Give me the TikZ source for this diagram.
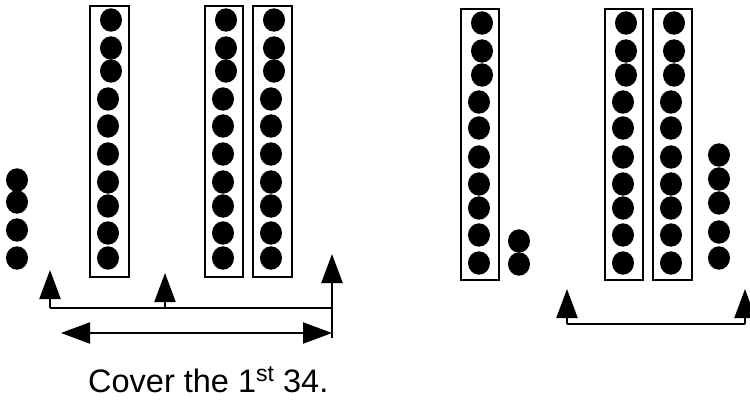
\documentclass[tikz,border=0pt]{standalone}
\usepackage{fontspec}
\setmainfont{Liberation Sans}
\usetikzlibrary{arrows.meta}
\newcommand{\supst}[1]{\raisebox{11pt}{\fontsize{23}{25}\selectfont #1}}
\begin{document}
\begin{tikzpicture}[x=1pt,y=-1pt,
  bead/.style={fill=black,draw=none},
  rod/.style={draw=black,line width=2pt},
  link/.style={draw=black,line width=2.2pt},
  tip/.style={-{Triangle[length=29pt,width=21pt]}},
  both/.style={{Triangle[length=29pt,width=21pt]}-{Triangle[length=29pt,width=21pt]}},
  lbl/.style={font=\fontsize{32.5}{36}\selectfont,inner sep=0pt,anchor=base west}]
\useasboundingbox (0,0) rectangle (750,400);
% ---- left panel ----
\draw[rod] (90,6) rectangle (129,277);
\draw[rod] (205,6) rectangle (243,277);
\draw[rod] (253,6) rectangle (292,277);
\foreach \y/\d in {20/3,48/3,71/3,99/0,126/0,154/0,182/0,206/0,233/0,258/0}{
  \fill[bead] (108+\d,\y) ellipse (11 and 11.7);
  \fill[bead] (223+\d,\y) ellipse (11 and 11.7);
  \fill[bead] (271+\d,\y) ellipse (11 and 11.7);
}
\foreach \y in {180,202,230,258}{\fill[bead] (17,\y) ellipse (11 and 11.7);}
\coordinate (a1) at (50,308);
\coordinate (a1t) at (50,270);
\coordinate (a2) at (165,308);
\coordinate (a2t) at (165,273);
\coordinate (a3) at (332,308);
\coordinate (a3t) at (332,254);
\coordinate (a3b) at (332,338);
\coordinate (d1) at (61,333);
\coordinate (d2) at (332,333);
\draw[link] (a1) -- (a3);
\draw[link,tip] (a1) -- (a1t);
\draw[link,tip] (a2) -- (a2t);
\draw[link,tip] (a3b) -- (a3t);
\draw[link,both] (d1) -- (d2);
\node[lbl] (cap) at (88,392) {Cover the 1\supst{st} 34.};
% ---- right panel ----
\draw[rod] (461,9) rectangle (499,280);
\draw[rod] (605,9) rectangle (643,280);
\draw[rod] (653,9) rectangle (692,280);
\foreach \y/\d in {23/3,51/3,75/3,102/0,128/0,157/0,184/0,208/0,235/0,263/0}{
  \fill[bead] (479+\d,\y) ellipse (11 and 11.7);
  \fill[bead] (623+\d,\y) ellipse (11 and 11.7);
  \fill[bead] (671+\d,\y) ellipse (11 and 11.7);
}
\foreach \y in {241,264}{\fill[bead] (519,\y) ellipse (11 and 11.7);}
\foreach \y in {155,179,203,232,258}{\fill[bead] (719,\y) ellipse (11 and 11.7);}
\coordinate (b1) at (567,324);
\coordinate (b1t) at (567,289);
\coordinate (b2) at (745,324);
\coordinate (b2t) at (745,289);
\draw[link] (b1) -- (b2);
\draw[link,tip] (b1) -- (b1t);
\draw[link,tip] (b2) -- (b2t);
\end{tikzpicture}
\end{document}
